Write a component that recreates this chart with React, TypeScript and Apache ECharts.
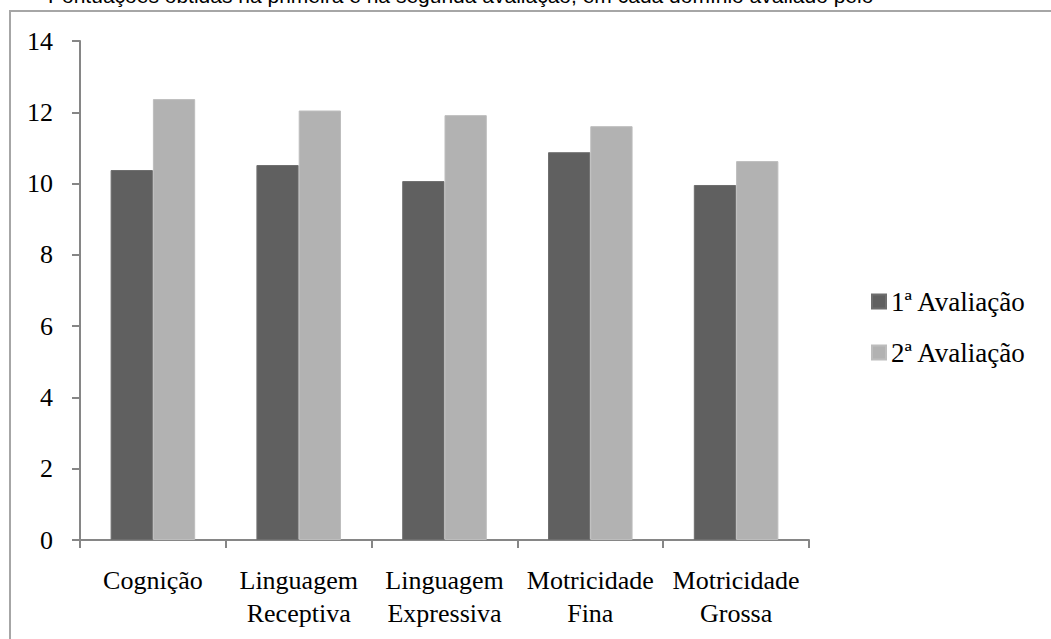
import React, { useEffect, useRef } from "react";
import * as echarts from "echarts";

const categories = [
  "Cognição",
  "Linguagem\nReceptiva",
  "Linguagem\nExpressiva",
  "Motricidade\nFina",
  "Motricidade\nGrossa",
];
const seriesNames = ["1ª Avaliação", "2ª Avaliação"];
const firstEval = [10.38, 10.52, 10.07, 10.88, 9.96];
const secondEval = [12.37, 12.05, 11.92, 11.61, 10.63];
const captionText =
  "Pontuações obtidas na primeira e na segunda avaliação, em cada domínio avaliado pelo";

export default function App() {
  const ref = useRef<HTMLDivElement>(null);
  useEffect(() => {
    if (!ref.current) return;
    const chart = echarts.init(ref.current, null, { renderer: "svg" });
    const serif = "Liberation Serif";
    const axisColor = "#868686";
    chart.setOption({
      animation: false,
      backgroundColor: "#ffffff",
      textStyle: { fontFamily: serif },
      grid: { left: 80, right: 242, top: 41, bottom: 99, containLabel: false },
      graphic: [
        {
          type: "rect",
          shape: { x: 10, y: 11, width: 1100, height: 700 },
          style: { fill: "none", stroke: "#a6a6a6", lineWidth: 2 },
          silent: true,
        },
        {
          type: "text",
          x: 48,
          y: 6,
          style: {
            text: captionText,
            fontFamily: "Liberation Sans",
            fontSize: 21,
            fill: "#000000",
            textVerticalAlign: "bottom",
            textBaseline: "alphabetic",
          },
          silent: true,
        },
      ],
      legend: {
        orient: "vertical",
        left: 866,
        top: 283,
        itemWidth: 14,
        itemHeight: 14,
        itemGap: 24,
        icon: "rect",
        data: seriesNames,
        textStyle: { fontFamily: serif, fontSize: 27, color: "#000000" },
      },
      xAxis: {
        type: "category",
        data: categories,
        axisLine: { show: true, lineStyle: { color: axisColor, width: 2 } },
        axisTick: { show: true, length: 8, lineStyle: { color: axisColor, width: 2 } },
        axisLabel: {
          interval: 0,
          margin: 24,
          fontFamily: serif,
          fontSize: 26,
          lineHeight: 33,
          color: "#000000",
        },
      },
      yAxis: {
        type: "value",
        min: 0,
        max: 14,
        interval: 2,
        axisLine: { show: true, lineStyle: { color: axisColor, width: 2 } },
        axisTick: { show: true, length: 8, lineStyle: { color: axisColor, width: 2 } },
        splitLine: { show: false },
        axisLabel: { margin: 27, fontFamily: serif, fontSize: 26, color: "#000000" },
      },
      series: [
        {
          name: seriesNames[0],
          type: "bar",
          data: firstEval,
          barGap: "0%",
          barCategoryGap: "42%",
          itemStyle: { color: "#606060", borderColor: "#6e6e6e", borderWidth: 1 },
        },
        {
          name: seriesNames[1],
          type: "bar",
          data: secondEval,
          barGap: "0%",
          barCategoryGap: "42%",
          itemStyle: { color: "#b2b2b2", borderColor: "#bdbdbd", borderWidth: 1 },
        },
      ],
    });
    return () => chart.dispose();
  }, []);
  return (
    <div
      ref={ref}
      style={{ position: "absolute", left: 0, top: 0, width: 1051, height: 639 }}
    />
  );
}
